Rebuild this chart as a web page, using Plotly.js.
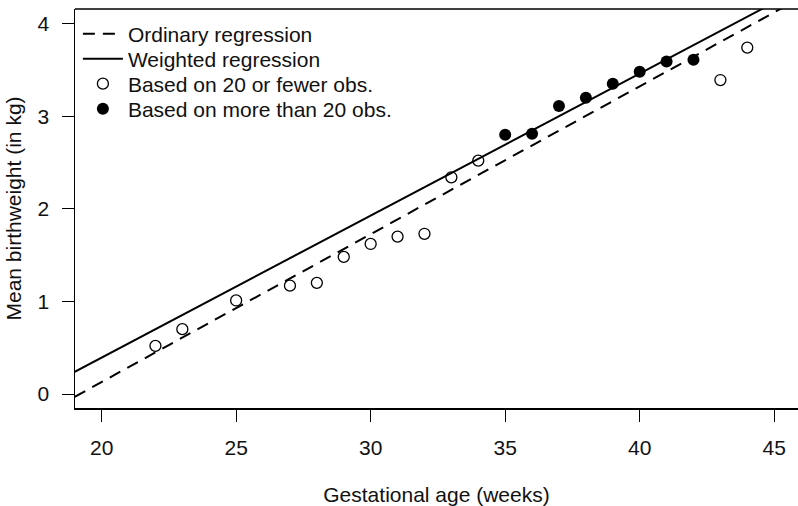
<!DOCTYPE html>
<html>
<head>
<meta charset="utf-8">
<script src="https://cdn.plot.ly/plotly-3.0.1.min.js"></script>
<style>html,body{margin:0;padding:0;background:#fff;}#chart{width:798px;height:506px;}</style>
</head>
<body>
<div id="chart"></div>
<script>
// Gestational age (weeks) and mean birthweight (kg)
const fewAge = [22, 23, 25, 27, 28, 29, 30, 31, 32, 33, 34, 43, 44];
const fewWeight = [0.52, 0.70, 1.01, 1.17, 1.20, 1.48, 1.62, 1.70, 1.73, 2.34, 2.52, 3.39, 3.74];
const manyAge = [35, 36, 37, 38, 39, 40, 41, 42];
const manyWeight = [2.80, 2.81, 3.11, 3.20, 3.35, 3.48, 3.59, 3.61];
// fitted regression lines (end points)
const lineAge = [19, 46];
const ordinaryFit = [-0.03, 4.28];
const weightedFit = [0.24, 4.38];
const seriesNames = ['Ordinary regression', 'Weighted regression',
                     'Based on 20 or fewer obs.', 'Based on more than 20 obs.'];
const xTicks = [20, 25, 30, 35, 40, 45];
const yTicks = [0, 1, 2, 3, 4];

const FONT = 'Liberation Sans, Arial, Helvetica, sans-serif';
const TXT = '#111';

const traces = [
  {x: lineAge, y: ordinaryFit, mode: 'lines', name: seriesNames[0], legend: 'legend',
   line: {color: '#000', width: 2, dash: '12px,8px'}},
  {x: lineAge, y: weightedFit, mode: 'lines', name: seriesNames[1], legend: 'legend2',
   line: {color: '#000', width: 2}},
  {x: fewAge, y: fewWeight, mode: 'markers', name: seriesNames[2], legend: 'legend3',
   marker: {symbol: 'circle-open', size: 11, color: '#000', line: {width: 1.3, color: '#000'}}},
  {x: manyAge, y: manyWeight, mode: 'markers', name: seriesNames[3], legend: 'legend4',
   marker: {symbol: 'circle', size: 12, color: '#000'}}
];

function legendAt(yPaper) {
  return {x: 0.004, y: yPaper, xanchor: 'left', yanchor: 'middle', bgcolor: 'rgba(0,0,0,0)',
          font: {family: FONT, size: 21, color: TXT}, itemwidth: 40, borderwidth: 0};
}

const layout = {
  width: 798, height: 506,
  margin: {l: 75, r: 0, t: 9, b: 98},
  paper_bgcolor: '#fff', plot_bgcolor: '#fff',
  font: {family: FONT, size: 21, color: TXT},
  showlegend: true,
  legend: legendAt(0.9373),
  legend2: legendAt(0.8747),
  legend3: legendAt(0.8120),
  legend4: legendAt(0.7494),
  xaxis: {
    range: [19.01, 45.885], tickvals: xTicks, ticktext: xTicks.map(String),
    showgrid: false, zeroline: false, showline: true, linecolor: '#000', linewidth: 1.5,
    ticks: 'outside', ticklen: 12, tickcolor: '#000', tickwidth: 1,
    ticklabelstandoff: 8,
    title: {text: 'Gestational age (weeks)', font: {family: FONT, size: 21, color: TXT}, standoff: 43}
  },
  yaxis: {
    range: [-0.151, 4.157], tickvals: yTicks, ticktext: yTicks.map(String),
    showgrid: false, zeroline: false, showline: true, linecolor: '#000', linewidth: 1.5,
    ticks: 'outside', ticklen: 12, tickcolor: '#000', tickwidth: 1,
    ticklabelstandoff: 8,
    title: {text: 'Mean birthweight (in kg)', font: {family: FONT, size: 21, color: TXT}, standoff: 10}
  },
  shapes: [
    {type: 'line', xref: 'paper', yref: 'paper', x0: 0, x1: 1, y0: 1, y1: 1,
     line: {color: '#000', width: 1.5}}
  ]
};

Plotly.newPlot('chart', traces, layout, {displayModeBar: false, staticPlot: true});
</script>
</body>
</html>
